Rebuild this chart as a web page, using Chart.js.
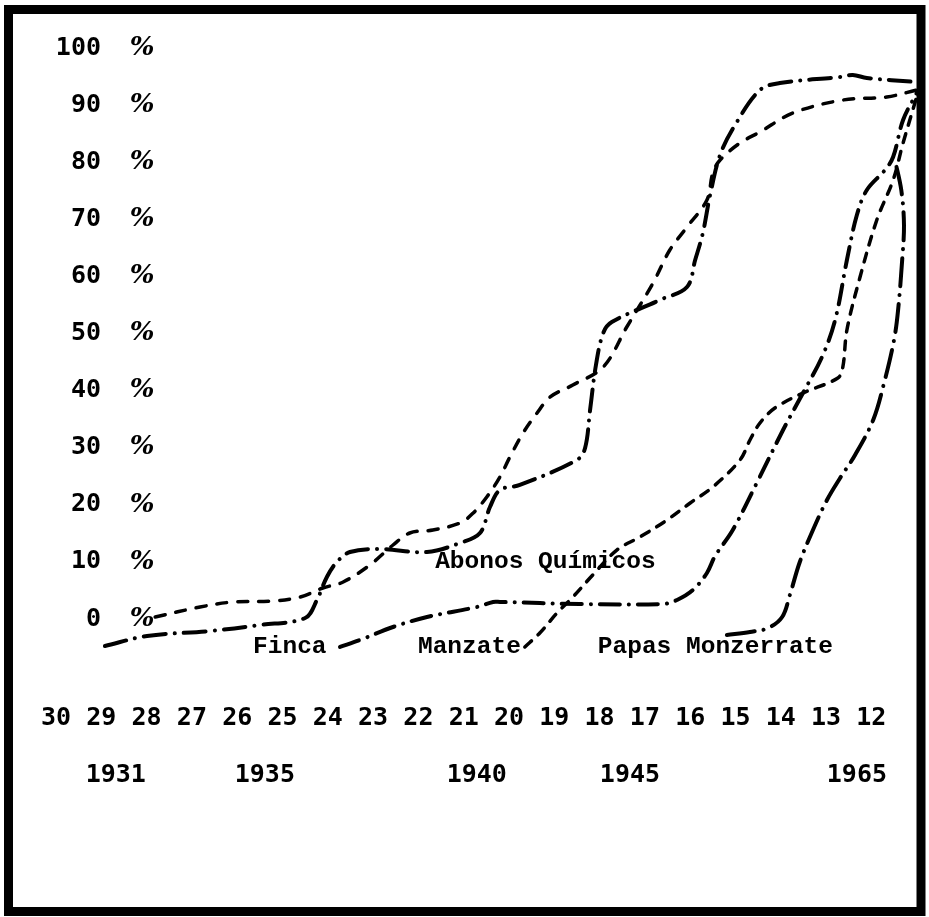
<!DOCTYPE html>
<html lang="es">
<head>
<meta charset="UTF-8">
<title>Curvas de adopción</title>
<script src="https://cdn.jsdelivr.net/npm/chart.js"></script>
<style>
  html, body { margin: 0; padding: 0; background: #fff; }
  #wrap { position: relative; width: 929px; height: 917px; }
</style>
</head>
<body>
<div id="wrap"><canvas id="chart"></canvas></div>
<script>
// x axis counts years back, 30 ... 12
const xTicks = [30, 29, 28, 27, 26, 25, 24, 23, 22, 21, 20, 19, 18, 17, 16, 15, 14, 13, 12];
const yTicks = [0, 10, 20, 30, 40, 50, 60, 70, 80, 90, 100];
const yearLabels = ["1931", "1935", "1940", "1945", "1965"];
const yearPos = [28.68, 25.39, 20.71, 17.33, 12.32];

// curves as [x, %]
const curveTop = [[28.92, -4.73], [27.99, -2.98], [26.6, -2.1], [25.5, -1.05], [24.5, 0.18], [24.24, 3.33],
  [24.02, 7.36], [23.8, 9.98], [23.51, 11.73], [22.85, 12.26], [21.81, 11.73], [21.08, 13.31], [20.64, 15.06],
  [20.42, 19.61], [20.2, 22.59], [19.76, 23.47], [18.5, 27.85], [18.32, 29.95], [18.21, 36.6], [18.08, 44.48],
  [17.92, 50.09], [17.73, 52.01], [16.67, 55.87], [16.07, 58.14], [15.89, 62.87], [15.72, 67.6], [15.56, 74.26],
  [15.34, 81.26], [15.01, 86.51], [14.46, 92.64], [14.02, 93.87], [12.69, 94.92], [12.41, 95.27], [12.1, 94.75],
  [11.0, 94.05]];
const curveDash = [[27.81, 0.35], [26.82, 2.1], [26.09, 2.98], [25.21, 3.15], [24.61, 3.85], [24.11, 5.43],
  [23.66, 6.48], [23.07, 9.46], [22.56, 12.96], [22.19, 15.06], [21.68, 15.59], [21.08, 16.81], [20.79, 18.56],
  [20.49, 21.37], [20.2, 24.87], [19.98, 28.37], [19.69, 32.57], [19.38, 36.08], [19.09, 38.88], [18.59, 40.98],
  [17.92, 44.13], [17.4, 51.14], [16.82, 58.84], [16.45, 64.62], [16.07, 68.65], [15.63, 73.38], [15.5, 78.11],
  [15.34, 80.39], [14.9, 83.36], [14.46, 85.29], [13.73, 88.62], [12.63, 90.89], [11.66, 91.42], [11.0, 92.64]];
const finca = [[23.73, -4.9], [23.29, -3.68], [22.56, -1.4], [21.81, 0.35], [20.71, 2.1], [20.35, 2.98],
  [20.2, 2.98], [18.43, 2.63], [16.6, 2.63], [16.29, 3.33], [15.94, 5.08], [15.63, 8.06], [15.45, 11.03],
  [15.06, 15.59], [14.53, 23.82], [13.95, 33.1], [13.51, 39.58], [13.09, 45.88], [12.8, 52.36], [12.54, 62.87],
  [12.32, 70.75], [12.1, 75.13], [11.7, 78.63], [11.52, 80.91], [11.3, 87.39], [11.0, 92.12]];
const manzate = [[19.65, -4.9], [19.32, -2.45], [18.94, 1.05], [18.59, 3.85], [18.15, 7.71], [17.62, 12.08],
  [17.11, 14.36], [16.51, 17.34], [16.0, 20.32], [15.5, 23.12], [14.9, 27.85], [14.68, 31.35], [14.46, 34.33],
  [14.13, 36.95], [13.51, 39.58], [12.74, 42.21], [12.63, 44.13], [12.54, 50.61], [12.25, 59.89], [11.88, 69.88],
  [11.52, 76.88], [11.3, 83.36], [11.0, 91.42]];
const papas = [[15.19, -2.8], [14.68, -2.28], [14.28, -1.58], [13.97, 0.35], [13.8, 4.2], [13.58, 9.98],
  [13.29, 15.59], [12.98, 20.84], [12.69, 24.69], [12.36, 28.72], [11.96, 34.85], [11.72, 41.33], [11.5, 48.86],
  [11.41, 54.12], [11.32, 62.87], [11.28, 69.0], [11.34, 75.13], [11.48, 80.39]];

// typed names on the chart, anchored in data units
const tagText = ["Finca", "Manzate", "Papas Monzerrate", "Abonos Químicos"];
const tagX = [25.65, 22.01, 18.04, 21.63];
const tagY = [-4.9, -4.9, -4.9, 10];

const pts = arr => arr.map(p => ({ x: p[0], y: p[1] }));
const numFont = { family: "'DejaVu Sans Mono', monospace", size: 25, weight: 'bold', lineHeight: 1.2 };
const pctFont = { family: "'DejaVu Serif', serif", size: 26, weight: 'bold', style: 'italic', lineHeight: 1.2 };

const line = (label, data, width, dash) => ({
  label: label, data: pts(data), borderColor: '#000', borderWidth: width,
  borderDash: dash, borderCapStyle: 'round', borderJoinStyle: 'round',
  pointRadius: 0, tension: 0.35, fill: false
});

// fixed axis boxes so the plot sits where the typed chart is
const fixBox = (w, h) => s => {
  if (w !== null) s.width = w;
  if (h !== null) s.height = h;
  s.paddingLeft = 0; s.paddingRight = 0; s.paddingTop = 0; s.paddingBottom = 0;
};

const tagsPlugin = {
  id: 'tags',
  afterDatasetsDraw(chart) {
    const { ctx, scales } = chart;
    ctx.save();
    ctx.fillStyle = '#000';
    ctx.font = "bold 24.5px 'Liberation Mono', monospace";
    ctx.textAlign = 'left';
    ctx.textBaseline = 'middle';
    tagText.forEach((t, i) => {
      ctx.fillText(t, scales.x.getPixelForValue(tagX[i]), scales.y.getPixelForValue(tagY[i]));
    });
    ctx.restore();
  }
};

const framePlugin = {
  id: 'frame',
  afterDraw(chart) {
    const ctx = chart.ctx;
    ctx.save();
    ctx.strokeStyle = '#000';
    ctx.lineWidth = 9;
    ctx.strokeRect(8.5, 9.5, 912.5, 902);
    ctx.restore();
  }
};

const yBase = {
  type: 'linear', position: 'left', min: -10, max: 105,
  grid: { display: false, drawTicks: false }, border: { display: false },
  afterBuildTicks: s => { s.ticks = yTicks.map(v => ({ value: v })); },
  afterFit: fixBox(0, null)
};

new Chart(document.getElementById('chart'), {
  type: 'line',
  data: {
    datasets: [
      line('top', curveTop, 4, [22, 9, 0.1, 9]),
      line('dashed', curveDash, 3.5, [10, 11]),
      line('Finca', finca, 4, [20, 9, 0.1, 9]),
      line('Manzate', manzate, 3.5, [9, 9]),
      line('Papas Monzerrate', papas, 4, [28, 9, 0.1, 9])
    ]
  },
  options: {
    responsive: true,
    maintainAspectRatio: false,
    animation: false,
    layout: { padding: { left: 33.35, right: 7.8, top: 19.45, bottom: 127 } },
    plugins: { legend: { display: false }, tooltip: { enabled: false } },
    scales: {
      x: {
        type: 'linear', reverse: true, min: 10.9, max: 30.5,
        grid: { display: false, drawTicks: false }, border: { display: false },
        afterBuildTicks: s => { s.ticks = xTicks.map(v => ({ value: v })); },
        afterFit: fixBox(null, 56.9),
        ticks: { autoSkip: false, maxRotation: 0, padding: 26.9, color: '#000', font: numFont,
          callback: v => String(v) }
      },
      x2: {
        type: 'linear', position: 'bottom', reverse: true, min: 10.9, max: 30.5,
        grid: { display: false, drawTicks: false }, border: { display: false },
        afterBuildTicks: s => { s.ticks = yearPos.map(v => ({ value: v })); },
        afterFit: fixBox(null, 57),
        ticks: { autoSkip: false, maxRotation: 0, padding: 27, color: '#000', font: numFont,
          callback: (v, i) => yearLabels[i] }
      },
      y: Object.assign({}, yBase, {
        ticks: { mirror: true, crossAlign: 'far', padding: 22.5, color: '#000', font: numFont,
          callback: v => String(v) }
      }),
      yPct: Object.assign({}, yBase, {
        ticks: { mirror: true, crossAlign: 'near', padding: 96.5, color: '#000', font: pctFont,
          callback: () => '%' }
      })
    }
  },
  plugins: [tagsPlugin, framePlugin]
});
</script>
</body>
</html>
